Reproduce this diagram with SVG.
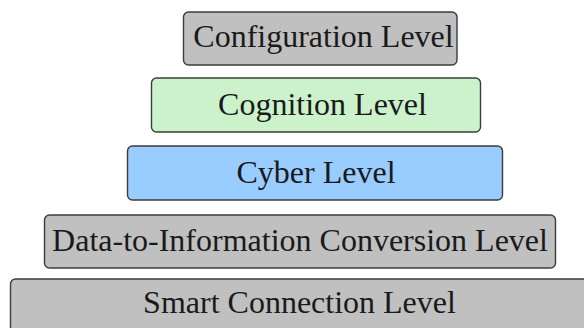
<svg xmlns="http://www.w3.org/2000/svg" width="584" height="328" viewBox="0 0 584 328">
<style>
.box{stroke:#3c3c3c;stroke-width:1.4}
.gray{fill:#c0c0c0}
.green{fill:#ccf2cc}
.blue{fill:#99ccff}
.lbl{font-family:"Liberation Serif","Times New Roman",serif;font-size:32px;fill:#1a1a1a;text-anchor:middle}
</style>
<rect width="584" height="328" fill="#ffffff"/>
<g id="configuration">
<rect class="box gray" x="183.5" y="12" width="273.5" height="53" rx="5"/>
<text class="lbl" x="323.5" y="47">Configuration Level</text>
</g>
<g id="cognition">
<rect class="box green" x="151.5" y="78" width="329" height="54" rx="5"/>
<text class="lbl" x="322.5" y="115">Cognition Level</text>
</g>
<g id="cyber">
<rect class="box blue" x="127.5" y="146" width="375" height="54" rx="5"/>
<text class="lbl" x="316" y="183">Cyber Level</text>
</g>
<g id="data-to-information">
<rect class="box gray" x="44.5" y="215" width="511" height="53" rx="5"/>
<text class="lbl" x="300" y="251">Data-to-Information Conversion Level</text>
</g>
<g id="smart-connection">
<rect class="box gray" x="10.5" y="279" width="620" height="80" rx="5"/>
<text class="lbl" x="299.5" y="313">Smart Connection Level</text>
</g>
<g id="connectors"></g>
</svg>
